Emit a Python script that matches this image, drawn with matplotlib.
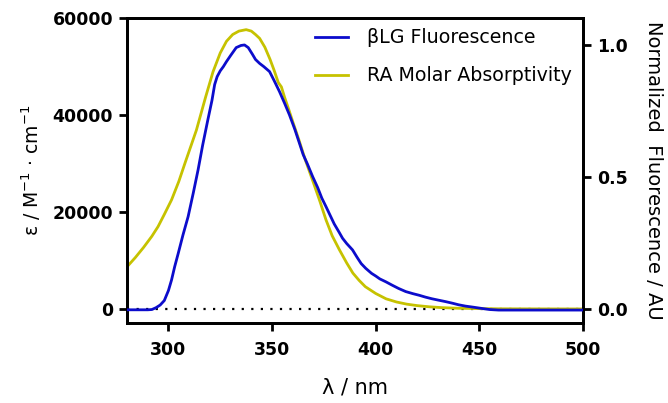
import matplotlib
matplotlib.use("Agg")
import matplotlib.pyplot as plt

plt.rcParams['font.family'] = ['DejaVu Sans']
plt.rcParams['mathtext.fontset'] = 'dejavusans'

# RA molar absorptivity (M^-1 cm^-1)
abs_wl = [280, 284, 288, 292, 295, 298, 301.5, 305, 308, 311, 313.5, 315, 318,
          321.5, 325, 328, 331, 334, 337.5, 340, 342, 344, 346.5, 349, 351, 353,
          354.5, 356, 358, 360, 363, 366, 369.5, 373, 376, 379, 382.5, 386, 389,
          392, 395, 400, 405, 410, 415, 420, 426, 432, 440, 450, 460, 480, 500]
abs_eps = [8700, 10600, 12700, 15000, 17000, 19500, 22500, 26300, 30100, 33800,
           36900, 39200, 43800, 48900, 52800, 55200, 56600, 57300, 57600, 57300,
           56600, 55800, 54000, 51500, 49200, 46700, 45800, 43700, 41200, 38600,
           34800, 30800, 26600, 22300, 18400, 15100, 12200, 9500, 7400, 5900,
           4600, 3200, 2100, 1450, 1000, 700, 450, 280, 150, 80, 40, 20, 10]

# beta-lactoglobulin fluorescence, normalized
fl_wl = [280, 285, 290, 292, 294, 296, 298, 300, 301.5, 303, 304.7, 307, 309.5,
         312, 314.3, 316.5, 319, 321, 322.3, 323.5, 325, 326.5, 328, 330, 332.7,
         335, 336.7, 338.5, 340.5, 342, 344, 346, 348.8, 351, 353.6, 356, 358.4,
         361, 363.2, 365, 367, 369.6, 372, 374, 376, 378, 380, 382.4, 384, 386,
         388.8, 391, 393, 395.2, 398, 400, 402, 404.9, 408, 411, 414.5, 418, 421,
         424, 427, 430, 433.7, 437, 440, 443.3, 447, 451.3, 455, 459.3, 470, 480,
         490, 500]
fl_norm = [-0.003, -0.003, -0.003, -0.002, 0.005, 0.015, 0.032, 0.07, 0.11, 0.16,
           0.21, 0.28, 0.35, 0.44, 0.527, 0.62, 0.716, 0.79, 0.85, 0.88, 0.902,
           0.918, 0.937, 0.96, 0.99, 0.998, 1.0, 0.99, 0.965, 0.945, 0.93, 0.918,
           0.899, 0.865, 0.823, 0.78, 0.735, 0.68, 0.628, 0.585, 0.55, 0.501,
           0.46, 0.42, 0.388, 0.355, 0.322, 0.29, 0.268, 0.248, 0.224, 0.196,
           0.172, 0.154, 0.135, 0.125, 0.114, 0.103, 0.09, 0.078, 0.066, 0.058,
           0.052, 0.045, 0.039, 0.034, 0.028, 0.022, 0.016, 0.011, 0.007, 0.002,
           -0.002, -0.004, -0.004, -0.004, -0.004, -0.004]

x_ticks = [300, 350, 400, 450, 500]
left_ticks = [0, 20000, 40000, 60000]
right_ticks = [0.0, 0.5, 1.0]

BLUE = '#0C0CCC'
YELLOW = '#C6C200'

fig = plt.figure(figsize=(6.68, 4.03), dpi=100)
ax = fig.add_axes([0.1901, 0.1985, 0.6826, 0.7568])
ax2 = ax.twinx()

ax.axhline(0, color='black', lw=1.6, linestyle=(0, (1, 3.3)), zorder=1)
l_abs, = ax.plot(abs_wl, abs_eps, color=YELLOW, lw=2.0, zorder=2,
                 label='RA Molar Absorptivity')
l_fl, = ax2.plot(fl_wl, fl_norm, color=BLUE, lw=2.0, zorder=3,
                 label='βLG Fluorescence')

ax.set_xlim(280, 500)
ax.set_ylim(-2887, 60000)
ax2.set_ylim(-0.053, 1.102)

ax.set_xticks(x_ticks)
ax.set_yticks(left_ticks)
ax2.set_yticks(right_ticks)
ax2.set_yticklabels(['0.0', '0.5', '1.0'])

for a in (ax, ax2):
    for s in a.spines.values():
        s.set_linewidth(2.0)
    a.tick_params(width=2.0, length=6, direction='out')

for lab in ax.get_xticklabels() + ax.get_yticklabels() + ax2.get_yticklabels():
    lab.set_fontsize(12.5)
    lab.set_fontweight('bold')
ax.tick_params(axis='y', pad=4)
ax.tick_params(axis='x', pad=7)
ax2.tick_params(axis='y', pad=4)

ax.set_xlabel('λ / nm', fontsize=15, labelpad=13)
ax.set_ylabel(r'ε / M$^{-1}$ · cm$^{-1}$', fontsize=13.5, labelpad=7)
ax2.set_ylabel('Normalized  Fluorescence / AU', fontsize=14, rotation=270,
               va='bottom', labelpad=12)

ax2.legend(handles=[l_fl, l_abs], loc='upper left',
           bbox_to_anchor=(0.4716, 0.93), bbox_transform=fig.transFigure,
           frameon=False, fontsize=13.7, handlelength=1.75, handletextpad=1.0,
           labelspacing=1.0, borderpad=0, borderaxespad=0)

fig.savefig('out.png', dpi=100)
